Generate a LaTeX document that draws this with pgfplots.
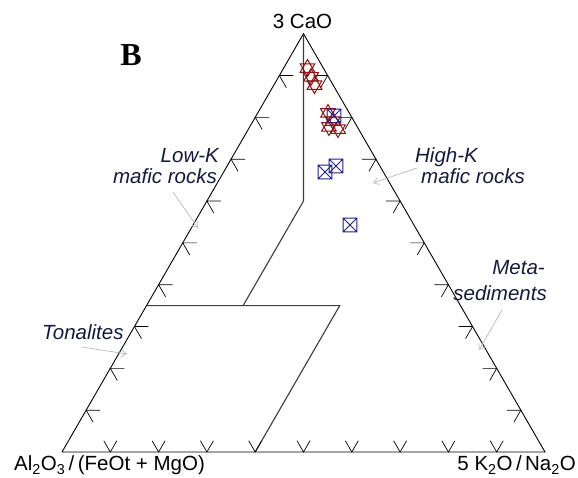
\documentclass[border=0pt]{standalone}
\usepackage{fontspec}
\setmainfont{Liberation Sans}
\newfontfamily\timesfont{Liberation Serif}
\usepackage{pgfplots}
\usepackage{pgfplotstable}
\pgfplotsset{compat=1.18}
\usetikzlibrary{calc,arrows.meta}

\definecolor{starred}{RGB}{140,22,22}
\definecolor{sqblue}{RGB}{30,30,140}
\definecolor{labelink}{RGB}{22,26,60}
\definecolor{fieldline}{RGB}{60,60,60}

% six-pointed star: two overlapping open triangles
\pgfdeclareplotmark{hexagram}{%
  \pgfpathmoveto{\pgfqpoint{0pt}{\pgfplotmarksize}}%
  \pgfpathlineto{\pgfqpointpolar{210}{\pgfplotmarksize}}%
  \pgfpathlineto{\pgfqpointpolar{330}{\pgfplotmarksize}}%
  \pgfpathclose
  \pgfpathmoveto{\pgfqpoint{0pt}{-\pgfplotmarksize}}%
  \pgfpathlineto{\pgfqpointpolar{30}{\pgfplotmarksize}}%
  \pgfpathlineto{\pgfqpointpolar{150}{\pgfplotmarksize}}%
  \pgfpathclose
  \pgfusepathqstroke}
% open square with both diagonals
\pgfdeclareplotmark{crosssquare}{%
  \pgfpathrectangle{\pgfqpoint{-\pgfplotmarksize}{-\pgfplotmarksize}}{\pgfqpoint{2\pgfplotmarksize}{2\pgfplotmarksize}}%
  \pgfpathmoveto{\pgfqpoint{-\pgfplotmarksize}{-\pgfplotmarksize}}%
  \pgfpathlineto{\pgfqpoint{\pgfplotmarksize}{\pgfplotmarksize}}%
  \pgfpathmoveto{\pgfqpoint{-\pgfplotmarksize}{\pgfplotmarksize}}%
  \pgfpathlineto{\pgfqpoint{\pgfplotmarksize}{-\pgfplotmarksize}}%
  \pgfusepathqstroke}

% ternary points as cartesian (x, y): base of unit length, apex at (0.5, 0.866)
\pgfplotstableread{
x y
0.5083 0.7950
0.5155 0.7764
0.5228 0.7598
0.5507 0.7019
0.5528 0.6729
0.5611 0.6853
0.5714 0.6687
}\groupA
\pgfplotstableread{
x y
0.5631 0.6957
0.5445 0.5797
0.5673 0.5921
0.5963 0.4700
}\groupB

\newcommand\lbl[1]{\fontsize{20.5bp}{24bp}\selectfont #1}
\newcommand\ilbl[1]{\fontsize{20.5bp}{24bp}\selectfont\itshape\color{labelink}#1}

\begin{document}
\begin{tikzpicture}
\begin{axis}[
  width=578bp, height=477bp, scale only axis,
  xmin=-0.12836, xmax=1.06832, ymin=-0.05176, ymax=0.93582,
  hide axis, clip=false]
\path (rel axis cs:0,0) rectangle (rel axis cs:1,1);

% outer triangle
\addplot[black, line width=0.9bp, mark=none] coordinates
  {(0,0) (1,0) (0.5,0.866025) (0,0)};

% field boundaries
\addplot[fieldline, line width=1.1bp, mark=none] coordinates
  {(0.5,0.866025) (0.5,0.519615) (0.375,0.303109)};
\addplot[fieldline, line width=1.1bp, mark=none] coordinates
  {(0.175,0.303109) (0.575,0.303109) (0.4,0)};

\coordinate (A) at (axis cs:0,0);
\coordinate (B) at (axis cs:1,0);
\coordinate (C) at (axis cs:0.5,0.866025);

% edge ticks at every 10 %
\pgfplotsinvokeforeach{0.1,0.2,0.3,0.4,0.5,0.6,0.7,0.8,0.9}{
  \draw[black, line width=0.7bp] ($(A)!#1!(B)$) ++(60:13bp) -- ++(240:13bp) -- ++(120:13bp);
  \draw[black, line width=0.7bp] ($(A)!#1!(C)$) ++(0:14bp) -- ++(180:14bp) -- ++(-60:14bp);
  \draw[black, line width=0.7bp] ($(B)!#1!(C)$) ++(180:14bp) -- ++(0:14bp) -- ++(240:14bp);
}

% samples
\addplot[only marks, mark=hexagram, mark size=8.5bp, starred, line width=1bp]
  table[x=x, y=y] {\groupA};
\addplot[only marks, mark=crosssquare, mark size=6.8bp, sqblue, line width=1bp]
  table[x=x, y=y] {\groupB};

% apex and corner labels
\node[anchor=base] at (axis cs:0.498,0.8758) {\lbl{3 CaO}};
\node[anchor=base west, inner sep=0pt] at (axis cs:-0.0994,-0.0393)
  {\lbl{Al\textsubscript{2}O\textsubscript{3}\,/\,(FeOt + MgO)}};
\node[anchor=base east, inner sep=0pt] at (axis cs:1.0642,-0.0393)
  {\lbl{5 K\textsubscript{2}O\,/\,Na\textsubscript{2}O}};
\node[anchor=base, inner sep=0pt] at (axis cs:0.1429,0.7992)
  {\fontsize{32bp}{36bp}\selectfont\timesfont\bfseries B};

% field names
\node[anchor=base east, inner sep=0pt] at (axis cs:0.3251,0.6004) {\ilbl{Low-K}};
\node[anchor=base east, inner sep=0pt] at (axis cs:0.3209,0.5569) {\ilbl{mafic rocks}};
\node[anchor=base west, inner sep=0pt] at (axis cs:0.7308,0.6004) {\ilbl{High-K}};
\node[anchor=base west, inner sep=0pt] at (axis cs:0.7433,0.5569) {\ilbl{mafic rocks}};
\node[anchor=base east, inner sep=0pt] at (axis cs:1.0000,0.3665) {\ilbl{Meta-}};
\node[anchor=base east, inner sep=0pt] at (axis cs:1.0041,0.3147) {\ilbl{sediments}};
\node[anchor=base west, inner sep=0pt] at (axis cs:-0.0414,0.2319) {\ilbl{Tonalites}};

% pointers
\begin{scope}[gray!55, line width=0.7bp, -{Straight Barb[length=5bp,width=7bp]}]
\draw (axis cs:0.2298,0.5383) -- (axis cs:0.2816,0.4638);
\draw (axis cs:0.7350,0.5880) -- (axis cs:0.6439,0.5569);
\draw (axis cs:0.9110,0.2940) -- (axis cs:0.8634,0.2112);
\draw (axis cs:0.0414,0.2174) -- (axis cs:0.1346,0.2029);
\end{scope}
\end{axis}
\end{tikzpicture}
\end{document}
